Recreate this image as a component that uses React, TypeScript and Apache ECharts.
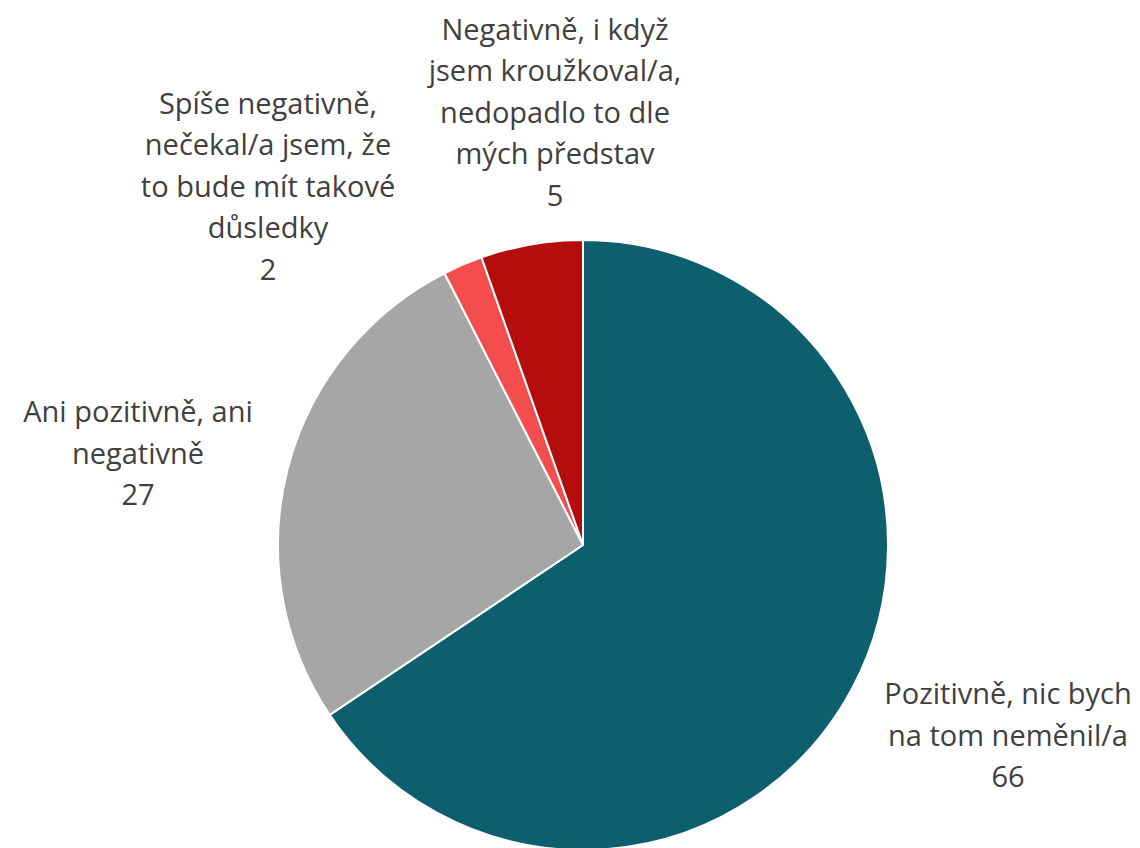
import React, { useEffect, useRef } from "react";
import * as echarts from "echarts";

const categories = [
  "Pozitivně, nic bych na tom neměnil/a",
  "Ani pozitivně, ani negativně",
  "Spíše negativně, nečekal/a jsem, že to bude mít takové důsledky",
  "Negativně, i když jsem kroužkoval/a, nedopadlo to dle mých představ",
];
const wrappedLabels = [
  "Pozitivně, nic bych\nna tom neměnil/a",
  "Ani pozitivně, ani\nnegativně",
  "Spíše negativně,\nnečekal/a jsem, že\nto bude mít takové\ndůsledky",
  "Negativně, i když\njsem kroužkoval/a,\nnedopadlo to dle\nmých představ",
];
// shares; labels show them rounded
const values = [65.6, 26.9, 2.1, 5.4];
const colors = ["#0d5f6e", "#a6a6a6", "#f44d4d", "#b50d0d"];
// label block centres (layout only)
const labelPos: [number, number][] = [
  [1008, 734],
  [138, 452],
  [268, 185],
  [555, 111],
];

export default function App() {
  const ref = useRef<HTMLDivElement>(null);
  useEffect(() => {
    document.body.style.margin = "0";
    const chart = echarts.init(ref.current!, undefined, { renderer: "svg" });
    chart.setOption({
      animation: false,
      backgroundColor: "#ffffff",
      series: [
        {
          type: "pie",
          center: [583, 545],
          radius: 305,
          startAngle: 90,
          clockwise: true,
          avoidLabelOverlap: false,
          data: categories.map((name, i) => ({
            name,
            value: values[i],
            itemStyle: { color: colors[i] },
          })),
          itemStyle: { borderColor: "#ffffff", borderWidth: 2 },
          label: {
            show: true,
            position: "outside",
            color: "#404040",
            fontFamily: "'Open Sans', 'Noto Sans', sans-serif",
            fontSize: 29,
            lineHeight: 41.5,
            align: "center",
            formatter: (p: any) =>
              wrappedLabels[p.dataIndex] + "\n" + Math.round(p.value),
          },
          labelLine: { show: false },
          labelLayout: (p: any) => {
            const pos = labelPos[p.dataIndex];
            return {
              x: pos[0],
              y: pos[1],
              align: "center",
              verticalAlign: "middle",
            };
          },
        },
      ],
    });
    return () => chart.dispose();
  }, []);
  return <div ref={ref} style={{ width: 1140, height: 848 }} />;
}
